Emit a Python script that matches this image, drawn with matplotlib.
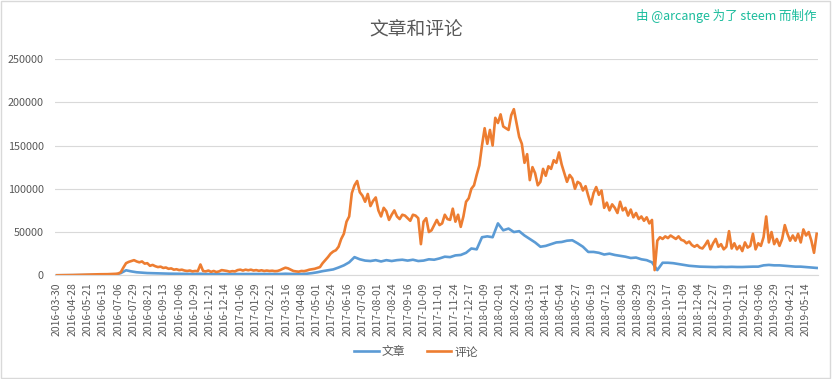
import numpy as np
import matplotlib
matplotlib.use("Agg")
import matplotlib.pyplot as plt
from matplotlib.patches import Rectangle

plt.rcParams['font.family'] = ['Noto Sans CJK SC', 'DejaVu Sans']

# category labels, one every 23 data points
date_labels = [
    "2016-03-30", "2016-04-28", "2016-05-21", "2016-06-13", "2016-07-06", "2016-07-29",
    "2016-08-21", "2016-09-13", "2016-10-06", "2016-10-29", "2016-11-21", "2016-12-14",
    "2017-01-06", "2017-01-29", "2017-02-21", "2017-03-16", "2017-04-08", "2017-05-01",
    "2017-05-24", "2017-06-16", "2017-07-09", "2017-08-01", "2017-08-24", "2017-09-16",
    "2017-10-09", "2017-11-01", "2017-11-24", "2017-12-17", "2018-01-09", "2018-02-01",
    "2018-02-24", "2018-03-19", "2018-04-11", "2018-05-04", "2018-05-27", "2018-06-19",
    "2018-07-12", "2018-08-04", "2018-08-29", "2018-09-23", "2018-10-17", "2018-11-09",
    "2018-12-04", "2018-12-27", "2019-01-19", "2019-02-11", "2019-03-06", "2019-03-29",
    "2019-04-21", "2019-05-14",
]
label_step = 23

# 评论 (comments), sampled every 4 days
comments = [
    50, 80, 100, 120, 150, 200, 300, 400, 500, 700,
    800, 900, 900, 1000, 1000, 1100, 1200, 1200, 1300, 1300,
    1400, 1500, 1700, 2000, 3500, 9000, 14000, 15500, 16500, 17500,
    16000, 15000, 16000, 13500, 14000, 11000, 12000, 10500, 9500, 10000,
    8500, 9000, 7500, 8000, 6500, 7000, 6000, 6500, 5500, 5000,
    5500, 4500, 5000, 4800, 12500, 5000, 4500, 5500, 4000, 5000,
    3800, 4500, 6000, 5500, 5000, 4200, 4800, 4500, 6000, 6500,
    5500, 6500, 5800, 6500, 5500, 6000, 5200, 5800, 5000, 5500,
    5000, 5300, 4800, 5000, 6000, 7500, 8800, 8000, 6500, 5000,
    4500, 4200, 5000, 4800, 5500, 6500, 7000, 7500, 8500, 9500,
    14000, 17500, 21000, 25000, 27500, 29000, 33000, 42000, 48000, 62000,
    68000, 95000, 104000, 109000, 96000, 92000, 85000, 94000, 80000, 86000,
    90000, 75000, 68000, 78000, 74000, 64000, 70000, 75000, 68000, 65000,
    70000, 69000, 66000, 63000, 70000, 69000, 66000, 36000, 62000, 66000,
    50000, 52000, 58000, 64000, 58000, 60000, 70000, 65000, 64000, 77000,
    62000, 70000, 56000, 68000, 85000, 89000, 100000, 104000, 116000, 127000,
    150000, 170000, 152000, 168000, 150000, 182000, 176000, 186000, 172000, 170000,
    168000, 185000, 192000, 176000, 160000, 152000, 130000, 140000, 110000, 125000,
    118000, 104000, 108000, 123000, 115000, 126000, 123000, 133000, 130000, 142000,
    128000, 118000, 108000, 116000, 112000, 100000, 108000, 106000, 98000, 103000,
    92000, 82000, 95000, 102000, 93000, 98000, 78000, 84000, 75000, 82000,
    78000, 72000, 85000, 75000, 78000, 69000, 76000, 67000, 72000, 65000,
    68000, 63000, 67000, 60000, 64000, 6000, 40000, 44000, 42000, 45000,
    43000, 46000, 44000, 42000, 45000, 41000, 40000, 37000, 39000, 35000,
    33000, 35000, 32000, 31000, 35000, 40000, 30000, 37000, 42000, 33000,
    36000, 30000, 33000, 51000, 31000, 37000, 30000, 34000, 28000, 38000,
    32000, 34000, 48000, 30000, 37000, 34000, 44000, 68000, 38000, 50000,
    36000, 42000, 34000, 42000, 58000, 48000, 40000, 46000, 40000, 48000,
    38000, 53000, 46000, 50000, 40000, 26000, 48000,
]
comments_step = 4

# 文章 (posts), sampled every 8 days
posts = [
    30, 50, 80, 100, 150, 250, 300, 350, 400, 450,
    500, 700, 2500, 5800, 4500, 3500, 3000, 2600, 2400, 2200,
    2000, 1900, 1800, 1700, 1600, 1500, 1500, 1800, 1400, 1400,
    1400, 1500, 1400, 1400, 1500, 1500, 1500, 1400, 1400, 1400,
    1300, 1300, 1500, 1800, 1600, 1400, 1500, 1800, 2500, 3500,
    4800, 5800, 6800, 9000, 11500, 15000, 21000, 18500, 17000, 16500,
    17500, 16000, 17500, 16500, 17500, 18000, 17000, 18000, 16500, 17000,
    18500, 18000, 19500, 21500, 21000, 23000, 23500, 26000, 31000, 30000,
    44000, 45000, 44000, 60000, 52000, 54000, 50000, 51000, 46000, 42000,
    38000, 33000, 34000, 36000, 38000, 38500, 40000, 40500, 37000, 33000,
    27000, 27000, 26000, 24000, 25000, 23500, 22500, 21500, 20000, 20500,
    18500, 17500, 15000, 6000, 14500, 14500, 14000, 13000, 12000, 11000,
    10500, 10000, 9800, 9500, 9500, 9800, 9600, 9800, 9600, 9600,
    9800, 10000, 10000, 11500, 12000, 11500, 11500, 11000, 10500, 10000,
    10000, 9500, 9000, 8500,
]
posts_step = 8

y_ticks = [0, 50000, 100000, 150000, 200000, 250000]

fig = plt.figure(figsize=(8.32, 3.79), dpi=100)
ax = fig.add_axes([55 / 832, 1 - 275.3 / 379, (818 - 55) / 832, (275.3 - 59) / 379])

x_posts = np.arange(len(posts)) * posts_step
x_comments = np.arange(len(comments)) * comments_step
ax.plot(x_posts, posts, color="#5B9BD5", lw=1.9, label="文章", solid_joinstyle="round")
ax.plot(x_comments, comments, color="#ED7D31", lw=1.9, label="评论", solid_joinstyle="round")

ax.set_xlim(-3, 1146)
ax.set_ylim(0, 250000)
ax.set_yticks(y_ticks)
ax.set_yticklabels([str(v) for v in y_ticks])
ax.set_xticks(np.arange(len(date_labels)) * label_step)
ax.set_xticklabels(date_labels, rotation=90)
ax.tick_params(axis="both", length=0, colors="#595959", labelsize=7.5)
ax.tick_params(axis="x", pad=5)
ax.tick_params(axis="y", pad=8, labelsize=7.8)

ax.grid(axis="y", color="#D9D9D9", lw=0.8)
ax.set_axisbelow(True)
for side in ["top", "right", "left"]:
    ax.spines[side].set_visible(False)
ax.spines["bottom"].set_color("#D9D9D9")

fig.text(0.5, 1 - 30 / 379, "文章和评论", ha="center", va="center", fontsize=13.5, color="#595959")
fig.text(817 / 832, 1 - 16 / 379, "由 @arcange 为了 steem 而制作", ha="right", va="center",
         fontsize=9, color="#1ABC9C")

leg = fig.legend(loc="center", bbox_to_anchor=(0.5, 1 - 352 / 379), ncol=2, frameon=False,
                 fontsize=8.5, handlelength=2.1, columnspacing=1.8, handletextpad=0.25)
for t in leg.get_texts():
    t.set_color("#595959")

fig.patches.append(Rectangle((0.001, 0.002), 0.997, 0.996, transform=fig.transFigure,
                             fill=False, edgecolor="#D9D9D9", lw=1))

fig.savefig("out.png", dpi=100)
